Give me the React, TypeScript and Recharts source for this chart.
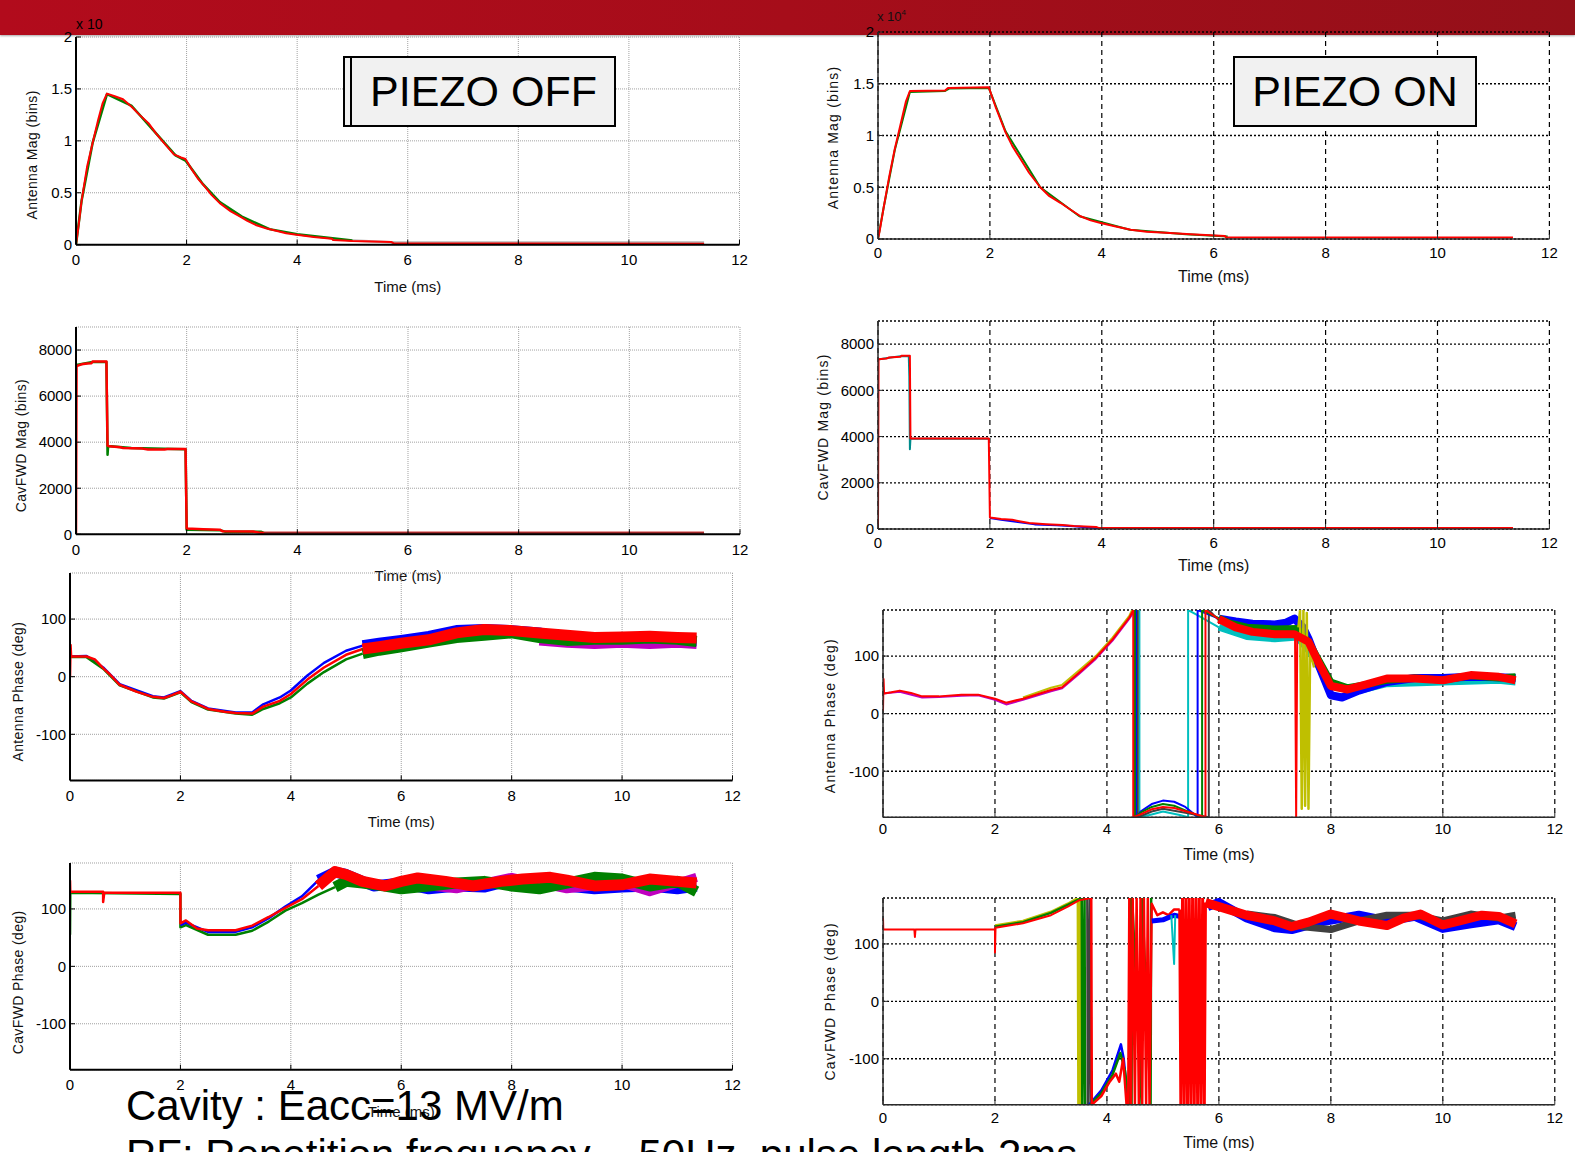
import React from 'react';
import { LineChart, Line, XAxis, YAxis, CartesianGrid, Label } from 'recharts';

const FONT = '"Liberation Sans", Arial, Helvetica, sans-serif';

type Pt = [number, number];

const timeTicks = [0, 2, 4, 6, 8, 10, 12];
const magTicks = [0, 0.5, 1, 1.5, 2];
const fwdMagTicks = [0, 2000, 4000, 6000, 8000];
const phaseTicks = [-100, 0, 100];

// ---- PIEZO OFF : antenna magnitude (x 10^4 bins) ----
const offAntMagRed: Pt[] = [[0, 0], [0.05, 0.2], [0.1, 0.42], [0.2, 0.75], [0.3, 0.98], [0.4, 1.2], [0.48, 1.36], [0.56, 1.455], [0.7, 1.43], [0.85, 1.4], [1.0, 1.33], [1.15, 1.25], [1.31, 1.17], [1.45, 1.07], [1.59, 0.98], [1.77, 0.87], [1.9, 0.84], [1.98, 0.825], [2.1, 0.72], [2.2, 0.64], [2.33, 0.56], [2.45, 0.48], [2.6, 0.4], [2.8, 0.32], [2.97, 0.27], [3.1, 0.23], [3.25, 0.19], [3.45, 0.155], [3.62, 0.135], [3.8, 0.11], [3.99, 0.096], [4.3, 0.075], [4.63, 0.058], [4.65, 0.045], [5.0, 0.035], [5.7, 0.026], [5.75, 0.012], [11.36, 0.01]];
const offAntMagGreen: Pt[] = [[0, 0], [0.1, 0.42], [0.3, 0.98], [0.56, 1.45], [1.0, 1.34], [1.5, 1.04], [1.8, 0.86], [1.98, 0.81], [2.3, 0.58], [2.6, 0.41], [3.0, 0.27], [3.5, 0.15], [4.0, 0.1], [5.0, 0.04]];
const offAntMagGray: Pt[] = [[5.0, 0.04], [5.8, 0.022], [11.36, 0.022]];

// ---- PIEZO ON : antenna magnitude (x 10^4 bins) ----
const onAntMagRed: Pt[] = [[0, 0], [0.03, 0.08], [0.1, 0.3], [0.2, 0.6], [0.3, 0.87], [0.4, 1.1], [0.5, 1.33], [0.57, 1.43], [1.2, 1.435], [1.25, 1.46], [1.98, 1.465], [2.1, 1.28], [2.28, 1.03], [2.4, 0.9], [2.55, 0.77], [2.7, 0.64], [2.9, 0.5], [3.05, 0.42], [3.26, 0.35], [3.45, 0.28], [3.62, 0.22], [3.8, 0.18], [3.98, 0.155], [4.25, 0.12], [4.52, 0.09], [4.8, 0.07], [5.14, 0.06], [5.59, 0.045], [6.2, 0.03], [6.22, 0.015], [11.35, 0.015]];
const onAntMagGreen: Pt[] = [[0, 0], [0.1, 0.3], [0.3, 0.86], [0.57, 1.42], [1.2, 1.43], [1.28, 1.455], [1.98, 1.46], [2.28, 1.04], [2.9, 0.5], [3.6, 0.22], [4.5, 0.09], [5.5, 0.045], [6.25, 0.025]];

// ---- PIEZO OFF : forward magnitude (bins) ----
const offFwdMagRed: Pt[] = [[0, 0], [0.01, 7300], [0.1, 7380], [0.2, 7420], [0.28, 7430], [0.3, 7500], [0.55, 7500], [0.57, 3850], [0.6, 3820], [0.8, 3780], [0.85, 3750], [1.2, 3720], [1.3, 3680], [1.6, 3680], [1.65, 3700], [1.98, 3700], [2.0, 250], [2.3, 220], [2.6, 200], [2.65, 130], [3.2, 120], [3.3, 80], [3.4, 60], [11.35, 60]];
const offFwdMagGreen: Pt[] = [[0, 7350], [0.3, 7480], [0.55, 7480], [0.57, 3450], [0.58, 3830], [1.0, 3750], [1.98, 3690], [2.0, 200], [2.6, 180], [2.7, 110], [3.35, 110], [3.4, 50]];
const offFwdMagBrown: Pt[] = [[3.4, 45], [11.35, 45]];

// ---- PIEZO ON : forward magnitude (bins) ----
const onFwdMagRed: Pt[] = [[0, 0], [0.01, 7350], [0.15, 7380], [0.2, 7420], [0.4, 7450], [0.42, 7500], [0.57, 7500], [0.58, 3920], [1.98, 3920], [2.0, 500], [2.2, 430], [2.4, 400], [2.5, 350], [2.7, 260], [3.0, 210], [3.3, 170], [3.5, 130], [3.9, 90], [3.95, 40], [11.35, 40]];
const onFwdMagCyan: Pt[] = [[0, 7330], [0.2, 7410], [0.4, 7480], [0.55, 7480], [0.56, 6600], [0.57, 3450], [0.58, 3900], [1.98, 3900]];
const onFwdMagBlue: Pt[] = [[2.0, 480], [2.2, 400], [2.5, 300], [2.8, 200], [3.2, 160], [3.5, 120], [3.95, 30], [4.05, 20]];

// ---- PIEZO OFF : antenna phase (deg) ----
const offAntPhRed: Pt[] = [[0, 0], [0.01, 55], [0.02, 35], [0.3, 35], [0.45, 30], [0.6, 15], [0.7, 6], [0.9, -14], [1.2, -26], [1.5, -35], [1.7, -37], [1.85, -32], [2.0, -26], [2.2, -43], [2.5, -56], [2.8, -61], [3.0, -63], [3.3, -64], [3.5, -52], [3.8, -42], [4.0, -30], [4.3, -5], [4.6, 16], [5.0, 38], [5.3, 48]];
const offAntPhBlue: Pt[] = [[0, 35], [0.3, 36], [0.6, 16], [0.9, -13], [1.5, -34], [1.7, -36], [2.0, -25], [2.2, -42], [2.5, -55], [3.0, -62], [3.3, -62], [3.5, -48], [3.8, -36], [4.0, -24], [4.3, 2], [4.6, 24], [5.0, 45], [5.3, 54]];
const offAntPhGreen: Pt[] = [[0, 34], [0.3, 34], [0.6, 14], [0.9, -15], [1.5, -36], [1.7, -38], [2.0, -27], [2.2, -44], [2.5, -57], [3.0, -64], [3.3, -66], [3.5, -56], [3.8, -46], [4.0, -36], [4.3, -12], [4.6, 8], [5.0, 30], [5.3, 40]];
const offAntPhBlueLate: Pt[] = [[5.3, 54], [5.6, 58], [6.0, 63], [6.5, 70], [7.0, 80], [7.5, 82], [8.0, 80], [8.5, 76], [9.0, 66], [9.5, 62], [10.0, 62], [10.5, 64], [11.0, 62], [11.35, 62]];
const offAntPhGreenLate: Pt[] = [[5.3, 40], [5.6, 46], [6.0, 52], [6.5, 60], [7.0, 68], [7.5, 72], [8.0, 76], [8.5, 68], [9.0, 63], [9.5, 65], [10.0, 65], [10.5, 67], [11.0, 65], [11.35, 61]];
const offAntPhMagentaLate: Pt[] = [[8.5, 62], [9.0, 58], [9.5, 56], [10.0, 58], [10.5, 56], [11.0, 58], [11.35, 56]];
const offAntPhRedLate: Pt[] = [[5.3, 48], [5.6, 52], [6.0, 58], [6.5, 64], [7.0, 76], [7.5, 82], [8.0, 80], [8.5, 76], [9.0, 72], [9.5, 68], [10.0, 69], [10.5, 70], [11.0, 68], [11.35, 67]];

// ---- PIEZO ON : antenna phase (deg) ----
const onAntPhRed: Pt[] = [[0, 5], [0.01, 60], [0.02, 35], [0.15, 37], [0.3, 40], [0.5, 36], [0.7, 30], [1.0, 30], [1.4, 33], [1.7, 33], [2.0, 26], [2.2, 19], [2.5, 26], [3.0, 41], [3.2, 46], [3.5, 71], [3.8, 97], [4.1, 129], [4.4, 167], [4.47, 180]];
const onAntPhMagenta: Pt[] = [[0, 35], [0.3, 38], [0.7, 28], [1.0, 29], [1.4, 31], [1.7, 32], [2.0, 24], [2.2, 16], [2.5, 24], [3.0, 39], [3.2, 44], [3.5, 69], [3.8, 95], [4.1, 127], [4.4, 165], [4.5, 180]];
const onAntPhYellow: Pt[] = [[2.5, 28], [3.0, 45], [3.2, 50], [3.5, 75], [3.8, 100], [4.1, 132], [4.4, 170], [4.45, 180]];
const onAntPhBlueWrap: Pt[] = [[4.52, 180], [4.52, -180], [4.6, -170], [4.8, -157], [5.0, -151], [5.2, -153], [5.4, -162], [5.6, -178], [5.62, -180], [5.62, 180], [5.8, 173], [6.0, 165]];
const onAntPhGreenWrap: Pt[] = [[4.5, 180], [4.5, -180], [4.6, -172], [4.8, -162], [5.0, -157], [5.2, -160], [5.4, -168], [5.7, -180], [5.7, 180], [5.9, 170], [6.0, 166]];
const onAntPhRedWrap: Pt[] = [[4.47, 180], [4.47, -180], [4.6, -175], [4.8, -166], [5.0, -162], [5.2, -164], [5.5, -172], [5.76, -180], [5.76, 180], [6.0, 164]];
const onAntPhCyanWrap: Pt[] = [[4.58, 180], [4.58, -180], [4.8, -175], [5.0, -170], [5.3, -176], [5.45, -180], [5.45, 180], [5.6, 172], [6.0, 150]];
const onAntPhGrayWrap: Pt[] = [[4.55, 180], [4.55, -180], [4.8, -170], [5.0, -165], [5.4, -172], [5.82, -180], [5.82, 180], [6.0, 162]];
const onAntPhSpikes: Pt[] = [[7.36, 138], [7.38, -180], [7.4, 138]];
const onAntPhYellowSpikes: Pt[] = [[7.42, 150], [7.45, 180], [7.48, -165], [7.51, 180], [7.54, -160], [7.57, 175], [7.6, -165], [7.63, 110], [7.7, 80]];
const onAntPhCyanLate: Pt[] = [[6.0, 150], [6.5, 134], [7.0, 130], [7.4, 133], [7.6, 110], [8.0, 50], [8.5, 40], [9.0, 52], [10.0, 55], [11.0, 58], [11.3, 55]];
const onAntPhBlueLate: Pt[] = [[6.0, 165], [6.3, 160], [6.6, 156], [7.0, 155], [7.2, 158], [7.35, 165], [7.5, 150], [7.6, 130], [7.8, 80], [8.0, 32], [8.2, 28], [8.5, 40], [9.0, 55], [9.5, 62], [10.0, 62], [10.5, 64], [11.0, 63], [11.3, 62]];
const onAntPhGreenLate: Pt[] = [[6.0, 166], [6.2, 157], [6.5, 150], [7.0, 147], [7.4, 148], [7.6, 125], [7.8, 90], [8.0, 55], [8.3, 45], [8.6, 50], [9.0, 58], [9.5, 62], [10.0, 58], [10.5, 66], [11.0, 62], [11.3, 64]];
const onAntPhRedLate: Pt[] = [[6.0, 164], [6.3, 150], [6.6, 142], [7.0, 138], [7.35, 138], [7.6, 125], [7.8, 85], [8.0, 48], [8.3, 42], [8.6, 50], [9.0, 61], [9.5, 61], [10.0, 58], [10.5, 67], [11.0, 64], [11.3, 58]];

// ---- PIEZO OFF : forward phase (deg) ----
const offFwdPhRed: Pt[] = [[0, 150], [0.005, 130], [0.6, 130], [0.6, 112], [0.62, 128], [2.0, 128], [2.0, 75], [2.1, 80], [2.3, 66], [2.5, 63], [3.0, 63], [3.3, 71], [3.6, 86], [3.9, 102], [4.2, 117], [4.5, 140]];
const offFwdPhGreen: Pt[] = [[0, 55], [0.005, 128], [2.0, 126], [2.0, 68], [2.1, 72], [2.5, 55], [3.0, 55], [3.3, 62], [3.6, 78], [3.9, 97], [4.2, 110], [4.5, 125], [4.8, 138]];
const offFwdPhBlue: Pt[] = [[2.0, 72], [2.1, 76], [2.5, 60], [3.0, 60], [3.3, 68], [3.6, 84], [3.9, 104], [4.2, 122], [4.5, 150]];
const offFwdPhBlueLate: Pt[] = [[4.5, 150], [4.8, 164], [5.0, 160], [5.5, 140], [6.0, 145], [6.5, 135], [7.0, 140], [7.5, 138], [8.0, 150], [8.5, 145], [9.0, 140], [9.5, 135], [10.0, 138], [10.5, 140], [11.0, 135], [11.35, 140]];
const offFwdPhMagentaLate: Pt[] = [[6.0, 145], [7.0, 135], [8.0, 155], [9.0, 135], [10.0, 145], [10.5, 130], [11.35, 155]];
const offFwdPhGreenLate: Pt[] = [[4.8, 138], [5.0, 148], [5.3, 145], [5.7, 140], [6.0, 135], [6.5, 140], [7.0, 145], [7.5, 148], [8.0, 140], [8.5, 135], [9.0, 145], [9.5, 155], [10.0, 152], [10.5, 140], [11.0, 148], [11.35, 130]];
const offFwdPhRedLate: Pt[] = [[4.5, 140], [4.8, 165], [5.0, 160], [5.3, 148], [5.7, 140], [6.0, 148], [6.3, 154], [6.8, 148], [7.3, 140], [7.8, 148], [8.2, 152], [8.7, 155], [9.0, 150], [9.5, 140], [10.0, 142], [10.5, 152], [11.0, 148], [11.35, 145]];

// ---- PIEZO ON : forward phase (deg) ----
const onFwdPhRed: Pt[] = [[0, 145], [0.005, 125], [0.56, 125], [0.57, 112], [0.58, 125], [1.3, 125], [2.0, 125], [2.0, 85], [2.01, 128], [2.5, 136], [3.0, 150], [3.3, 165], [3.5, 176], [3.72, 180]];
const onFwdPhYellow: Pt[] = [[2.0, 132], [2.5, 140], [3.0, 156], [3.3, 170], [3.48, 180], [3.49, -180], [3.52, 180], [3.53, -180]];
const onFwdPhGreen: Pt[] = [[2.0, 130], [2.5, 138], [3.0, 154], [3.3, 168], [3.55, 180], [3.56, -180], [3.6, 180], [3.61, -180]];
const onFwdPhGray: Pt[] = [[3.65, 180], [3.66, -180], [3.7, 180], [3.71, -180]];
const onFwdPhBlueHump: Pt[] = [[3.68, -180], [3.9, -155], [4.1, -120], [4.25, -75], [4.3, -100], [4.38, -180]];
const onFwdPhGreenHump: Pt[] = [[3.7, -180], [3.9, -160], [4.1, -128], [4.24, -90], [4.32, -120], [4.4, -180]];
const onFwdPhRedHump: Pt[] = [[3.72, 180], [3.73, -180], [3.9, -165], [4.05, -140], [4.16, -126], [4.22, -140], [4.29, -100], [4.35, -180]];
const onFwdPhGreenCluster: Pt[] = [[4.4, -180], [4.41, 180], [4.44, -180], [4.45, 180], [4.62, -180], [4.63, 180], [4.78, -180], [4.79, 180]];
const onFwdPhRedCluster1: Pt[] = [[4.38, -180], [4.4, 180], [4.43, -180], [4.46, 180], [4.5, -180], [4.53, 180], [4.57, -180], [4.6, 180], [4.63, -180], [4.66, 180], [4.7, -180], [4.73, 180], [4.76, -180], [4.8, 170], [4.9, 150], [5.0, 155], [5.1, 150], [5.2, 160], [5.3, 160]];
const onFwdPhBlueMid: Pt[] = [[4.8, 140], [5.0, 142], [5.2, 150], [5.3, 148]];
const onFwdPhCyanSpike: Pt[] = [[5.15, 150], [5.2, 65], [5.22, 150]];
const onFwdPhRedCluster2: Pt[] = [[5.3, 160], [5.32, -180], [5.35, 180], [5.38, -180], [5.41, 180], [5.44, -180], [5.47, 180], [5.5, -180], [5.53, 180], [5.56, -180], [5.59, 180], [5.62, -180], [5.65, 180], [5.68, -180], [5.71, 180], [5.74, -180], [5.76, 172]];
const onFwdPhBlueLate: Pt[] = [[5.8, 165], [6.0, 172], [6.5, 145], [7.0, 128], [7.3, 125], [7.8, 138], [8.5, 150], [9.0, 140], [9.5, 148], [10.0, 127], [10.5, 135], [11.0, 142], [11.3, 130]];
const onFwdPhGrayLate: Pt[] = [[6.5, 152], [7.0, 146], [7.5, 130], [8.0, 125], [8.5, 140], [9.0, 150], [9.5, 150], [10.0, 140], [10.5, 152], [11.0, 145], [11.3, 150]];
const onFwdPhRedLate: Pt[] = [[5.76, 172], [6.0, 165], [6.5, 150], [7.0, 140], [7.3, 130], [7.6, 138], [8.0, 152], [8.5, 140], [9.0, 132], [9.3, 145], [9.6, 152], [10.0, 133], [10.3, 140], [10.7, 150], [11.0, 148], [11.3, 135]];

const C = {
  blue: '#0000ff', green: '#008000', red: '#ff0000', cyan: '#00bfbf', magenta: '#bf00bf',
  yellow: '#bfbf00', gray: '#404040', brown: '#a0282a', light: '#b4b4b4', teal: '#008c8c',
};

type Trace = { data: Pt[]; color: string; width: number };

interface PanelProps {
  box: [number, number, number, number];
  yDomain: [number, number];
  yTicks: number[];
  yLabel: string;
  yLabelDist: number;
  yLabelDy: number;
  xLabelDist: number;
  xTickGap: number;
  piezo: boolean;
  traces: Trace[];
}

function Panel({ box, yDomain, yTicks, yLabel, yLabelDist, yLabelDy, xLabelDist, xTickGap, piezo, traces }: PanelProps) {
  const [x0, y0, x1, y1] = box;
  const padL = 80, padT = 8, padR = 12, padB = 60;
  const plotW = x1 - x0, plotH = y1 - y0;
  const W = plotW + padL + padR, H = plotH + padT + padB;
  const frame = piezo ? '#2a2a2a' : '#000';
  const frameW = piezo ? 1.5 : 2;
  const tickFont = { fontSize: 15, fill: '#000', fontFamily: FONT };
  const lx = padL - yLabelDist;
  const ly = padT + plotH / 2 + yLabelDy;
  const yTitle = () => (
    <text x={lx} y={ly} transform={`rotate(-90 ${lx} ${ly})`} textAnchor="middle" dominantBaseline="central"
      fontSize={14} fontFamily={FONT} letterSpacing={piezo ? 1.2 : 0.4} fill="#111">{yLabel}</text>
  );
  const xTitle = () => (
    <text x={padL + plotW / 2} y={padT + plotH + xLabelDist} textAnchor="middle" dominantBaseline="central"
      fontSize={piezo ? 16 : 15} fontFamily={FONT} fill="#111">Time (ms)</text>
  );
  return (
    <div style={{ position: 'absolute', left: x0 - padL, top: y0 - padT }}>
      <LineChart width={W} height={H} margin={{ top: padT, right: padR, bottom: 0, left: 0 }}>
        {!piezo && <CartesianGrid stroke="#a0a0a0" strokeDasharray="1 1" />}
        {piezo && <CartesianGrid horizontal={false} stroke="#000" strokeWidth={1.2} strokeDasharray="5 4" />}
        {piezo && <CartesianGrid vertical={false} stroke="#000" strokeWidth={1.3} strokeDasharray="2 2" />}
        <XAxis type="number" dataKey="t" domain={[0, 12]} ticks={timeTicks} interval={0} allowDataOverflow
          height={padB} tickSize={-5} tickMargin={xTickGap + 5} tick={tickFont}
          axisLine={{ stroke: frame, strokeWidth: frameW }} tickLine={{ stroke: frame }}>
          <Label content={xTitle} />
        </XAxis>
        <XAxis xAxisId="top" orientation="top" type="number" domain={[0, 12]} ticks={timeTicks} interval={0}
          height={0} tickSize={-5} tick={false} axisLine={{ stroke: frame, strokeWidth: frameW }} tickLine={{ stroke: frame }} />
        <YAxis type="number" domain={yDomain} ticks={yTicks} interval={0} allowDataOverflow
          width={padL} tickSize={-5} tickMargin={9} tick={tickFont}
          axisLine={{ stroke: frame, strokeWidth: frameW }} tickLine={{ stroke: frame }}>
          <Label content={yTitle} />
        </YAxis>
        <YAxis yAxisId="right" orientation="right" type="number" domain={yDomain} ticks={yTicks} interval={0}
          width={0} tickSize={-5} tick={false} axisLine={{ stroke: frame, strokeWidth: frameW }} tickLine={{ stroke: frame }} />
        {traces.map((tr, i) => (
          <Line key={i} data={tr.data.map(([t, v]) => ({ t, v }))} dataKey="v" type="linear"
            stroke={tr.color} strokeWidth={tr.width} dot={false} isAnimationActive={false} strokeLinejoin="round" />
        ))}
      </LineChart>
    </div>
  );
}

const T = (data: Pt[], color: string, width: number): Trace => ({ data, color, width });

export default function App() {
  return (
    <div style={{ position: 'absolute', left: 0, top: 0, width: 1575, height: 1152, overflow: 'hidden', background: '#fff', fontFamily: FONT }}>
      <div style={{ position: 'absolute', left: 0, top: 0, width: 1575, height: 35, background: 'linear-gradient(90deg, #b20b1c 0%, #a60d1a 50%, #941019 100%)', boxShadow: '0 1px 2px rgba(0,0,0,0.35)' }} />

      <Panel box={[75.5, 37.3, 739, 245]} yDomain={[0, 2]} yTicks={magTicks} yLabel="Antenna Mag (bins)"
        yLabelDist={44} yLabelDy={14} xLabelDist={42} xTickGap={10} piezo={false}
        traces={[T(offAntMagGray, C.light, 2.5), T(offAntMagGreen, C.green, 2.5), T(offAntMagRed, C.red, 2)]} />
      <Panel box={[877.6, 32.3, 1549, 239.3]} yDomain={[0, 2]} yTicks={magTicks} yLabel="Antenna Mag (bins)"
        yLabelDist={45} yLabelDy={2} xLabelDist={38} xTickGap={8} piezo
        traces={[T(onAntMagGreen, C.green, 2), T(onAntMagRed, C.red, 2)]} />

      <Panel box={[75.5, 326.7, 739.5, 534]} yDomain={[0, 9000]} yTicks={fwdMagTicks} yLabel="CavFWD Mag (bins)"
        yLabelDist={55} yLabelDy={15} xLabelDist={41} xTickGap={10} piezo={false}
        traces={[T(offFwdMagGreen, C.green, 2.5), T(offFwdMagRed, C.red, 2.5), T(offFwdMagBrown, C.brown, 3)]} />
      <Panel box={[877.6, 320.7, 1549, 528.7]} yDomain={[0, 9000]} yTicks={fwdMagTicks} yLabel="CavFWD Mag (bins)"
        yLabelDist={55} yLabelDy={2} xLabelDist={37} xTickGap={8} piezo
        traces={[T(onFwdMagCyan, C.teal, 2), T(onFwdMagBlue, C.blue, 2), T(onFwdMagRed, C.red, 2)]} />

      <Panel box={[69.9, 573.3, 732.4, 780.7]} yDomain={[-180, 180]} yTicks={phaseTicks} yLabel="Antenna Phase (deg)"
        yLabelDist={52} yLabelDy={15} xLabelDist={41} xTickGap={10} piezo={false}
        traces={[
          T(offAntPhBlue, C.blue, 2.5), T(offAntPhGreen, C.green, 2.5), T(offAntPhRed, C.red, 2.5),
          T(offAntPhBlueLate, C.blue, 11), T(offAntPhMagentaLate, C.magenta, 9), T(offAntPhGreenLate, C.green, 11), T(offAntPhRedLate, C.red, 11),
        ]} />
      <Panel box={[882.6, 610, 1554.4, 817.3]} yDomain={[-180, 180]} yTicks={phaseTicks} yLabel="Antenna Phase (deg)"
        yLabelDist={52.6} yLabelDy={2} xLabelDist={37.7} xTickGap={6.5} piezo
        traces={[
          T(onAntPhYellow, C.yellow, 2), T(onAntPhMagenta, C.magenta, 2), T(onAntPhRed, C.red, 2),
          T(onAntPhCyanWrap, C.cyan, 2), T(onAntPhGrayWrap, C.gray, 2), T(onAntPhBlueWrap, C.blue, 2),
          T(onAntPhGreenWrap, C.green, 2), T(onAntPhRedWrap, C.red, 2),
          T(onAntPhCyanLate, C.cyan, 7), T(onAntPhBlueLate, C.blue, 8), T(onAntPhGreenLate, C.green, 7),
          T(onAntPhSpikes, C.red, 2), T(onAntPhYellowSpikes, C.yellow, 2.5), T(onAntPhRedLate, C.red, 8),
        ]} />

      <Panel box={[69.9, 863.3, 732.4, 1070]} yDomain={[-180, 180]} yTicks={phaseTicks} yLabel="CavFWD Phase (deg)"
        yLabelDist={52} yLabelDy={16} xLabelDist={41.7} xTickGap={10} piezo={false}
        traces={[
          T(offFwdPhGreen, C.green, 2.5), T(offFwdPhBlue, C.blue, 2.5), T(offFwdPhRed, C.red, 2.5),
          T(offFwdPhBlueLate, C.blue, 11), T(offFwdPhMagentaLate, C.magenta, 9), T(offFwdPhGreenLate, C.green, 11), T(offFwdPhRedLate, C.red, 11),
        ]} />
      <Panel box={[882.6, 898.3, 1554.4, 1105]} yDomain={[-180, 180]} yTicks={phaseTicks} yLabel="CavFWD Phase (deg)"
        yLabelDist={52.6} yLabelDy={0} xLabelDist={37.7} xTickGap={7.5} piezo
        traces={[
          T(onFwdPhYellow, C.yellow, 2.5), T(onFwdPhGreen, C.green, 2.5), T(onFwdPhGray, C.gray, 2.5),
          T(onFwdPhBlueHump, C.blue, 2.5), T(onFwdPhGreenHump, C.green, 2.5), T(onFwdPhRed, C.red, 2), T(onFwdPhRedHump, C.red, 2.5),
          T(onFwdPhGreenCluster, C.green, 2.5), T(onFwdPhRedCluster1, C.red, 2.5), T(onFwdPhBlueMid, C.blue, 5), T(onFwdPhCyanSpike, C.cyan, 2),
          T(onFwdPhRedCluster2, C.red, 3), T(onFwdPhBlueLate, C.blue, 9), T(onFwdPhGrayLate, C.gray, 7), T(onFwdPhRedLate, C.red, 9),
        ]} />

      <div style={{ position: 'absolute', left: 76, top: 16, fontSize: 14, lineHeight: '17px', color: '#000' }}>x 10</div>
      <div style={{ position: 'absolute', left: 877, top: 9, fontSize: 13, lineHeight: '15px', color: '#111' }}>
        x 10<sup style={{ fontSize: 8, verticalAlign: 'top', position: 'relative', top: -4 }}>4</sup>
      </div>

      <div style={{ position: 'absolute', left: 343, top: 56, width: 269, height: 67, border: '2px solid #000', background: '#f1f1f1', display: 'flex', alignItems: 'center', justifyContent: 'center' }}>
        <div style={{ position: 'absolute', left: 5, top: 0, width: 2, height: '100%', background: '#000' }} />
        <span style={{ fontSize: 43, color: '#000', paddingLeft: 8 }}>PIEZO OFF</span>
      </div>
      <div style={{ position: 'absolute', left: 1233, top: 56, width: 240, height: 67, border: '2px solid #000', background: '#f1f1f1', display: 'flex', alignItems: 'center', justifyContent: 'center' }}>
        <span style={{ fontSize: 43, color: '#000' }}>PIEZO ON</span>
      </div>

      <div style={{ position: 'absolute', left: 126, top: 1081, fontSize: 42, lineHeight: '49px', color: '#000', whiteSpace: 'nowrap' }}>
        <div>Cavity : Eacc=13 MV/m</div>
        <div>RF: Repetition frequency ~ 50Hz, pulse length 2ms</div>
      </div>
    </div>
  );
}
